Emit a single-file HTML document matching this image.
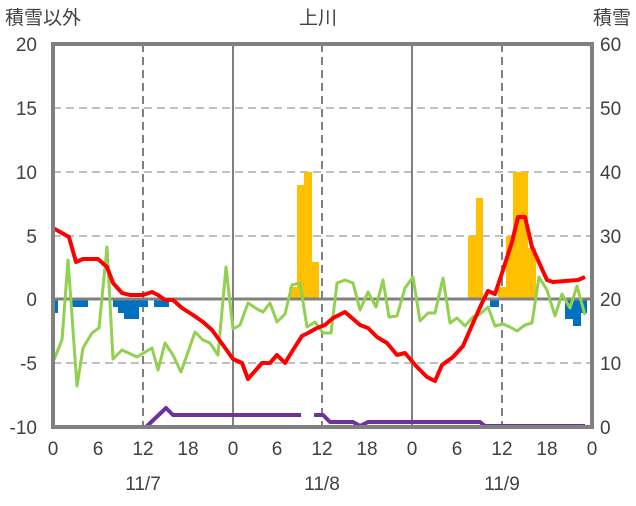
<!DOCTYPE html>
<html><head><meta charset="utf-8"><style>
body{margin:0;background:#fff;}
svg text{font-family:"Liberation Sans","Noto Sans CJK JP",sans-serif;fill:#404040;font-size:19px;}
</style></head><body>
<svg width="636" height="501" viewBox="0 0 636 501" xmlns="http://www.w3.org/2000/svg">
<g stroke="#bfbfbf" stroke-width="2" stroke-dasharray="8,5">
<line x1="53" y1="108" x2="592" y2="108"/><line x1="53" y1="172" x2="592" y2="172"/>
<line x1="53" y1="236" x2="592" y2="236"/><line x1="53" y1="363" x2="592" y2="363"/>
</g>
<g stroke="#808080" stroke-width="2" stroke-dasharray="8,5">
<line x1="143" y1="44" x2="143" y2="427"/><line x1="322" y1="44" x2="322" y2="427"/><line x1="502" y1="44" x2="502" y2="427"/>
</g>
<g stroke="#808080" stroke-width="2">
<line x1="233" y1="44" x2="233" y2="427"/><line x1="412" y1="44" x2="412" y2="427"/>
</g>
<g fill="#ffc000">
<rect x="289" y="287" width="8" height="12"/><rect x="297" y="185" width="7" height="114"/>
<rect x="304" y="172" width="8" height="127"/><rect x="312" y="262" width="7" height="37"/>
<rect x="468" y="236" width="8" height="63"/><rect x="476" y="198" width="7" height="101"/>
<rect x="498" y="287" width="8" height="12"/><rect x="506" y="236" width="7" height="63"/>
<rect x="513" y="172" width="15" height="127"/><rect x="528" y="248" width="8" height="51"/>
</g>
<g fill="#0070c0">
<rect x="53" y="299" width="5" height="14"/><rect x="72" y="299" width="16" height="8"/>
<rect x="113" y="299" width="5" height="8"/><rect x="118" y="299" width="6" height="14"/>
<rect x="124" y="299" width="15" height="20"/><rect x="139" y="299" width="9" height="8"/>
<rect x="154" y="299" width="15" height="8"/><rect x="490" y="299" width="9" height="8"/>
<rect x="565" y="299" width="8" height="20"/><rect x="573" y="299" width="8" height="27"/><rect x="581" y="299" width="6" height="14"/>
</g>
<line x1="53" y1="299" x2="592" y2="299" stroke="#808080" stroke-width="3"/>
<polyline fill="none" stroke="#92d050" stroke-width="3" stroke-linejoin="round" points="53,362 62,340 68,260 77,386 83,348 92,333 99,328 107,247 113,359 122,350 137,357 152,348 158,370 165,343 173,355 181,372 188,352 195,332 203,340 210,343 218,355 226,267 233,329 240,325 248,303 257,309 263,312 270,303 277,322 285,314 292,285 300,283 307,327 315,322 323,333 331,333 337,283 345,280 353,283 360,310 368,292 376,307 383,280 389,317 397,316 405,288 413,277 420,321 428,313 435,313 443,278 450,323 457,318 465,326 473,317 480,314 488,307 495,326 503,324 510,327 517,331 525,325 532,323 539,277 547,290 555,316 562,294 570,308 577,286 585,315"/>
<polyline fill="none" stroke="#ff0000" stroke-width="4" stroke-linejoin="round" points="53,228 69,237 76,262 83,259 98,259 107,267 113,283 122,293 130,295 143,295 152,292 158,295 165,300 173,300 182,308 193,315 203,322 212,330 223,345 233,359 242,363 248,379 262,363 270,363 277,355 285,363 293,350 302,336 308,333 317,328 325,325 333,318 345,312 360,325 368,328 377,337 387,343 397,355 405,353 417,367 427,377 435,381 442,365 453,357 463,346 473,323 482,303 488,291 495,294 503,270 512,242 518,217 525,217 532,247 547,280 553,282 578,280 585,277"/>
<polyline fill="none" stroke="#7030a0" stroke-width="4" stroke-linejoin="round" points="53,427 146,427 166,408 173,415 301,415"/>
<polyline fill="none" stroke="#7030a0" stroke-width="4" stroke-linejoin="round" points="314,415 323,415 330,422 353,422 360,426 368,422 480,422 485,426 585,426"/>
<rect x="53" y="44" width="539" height="383" fill="none" stroke="#808080" stroke-width="4"/>
<text x="5" y="24">積雪以外</text>
<text x="318" y="24" text-anchor="middle">上川</text>
<text x="631" y="24" text-anchor="end">積雪</text>
<g text-anchor="end">
<text x="37" y="51">20</text><text x="37" y="115">15</text><text x="37" y="179">10</text>
<text x="37" y="243">5</text><text x="37" y="306">0</text><text x="37" y="370">-5</text><text x="37" y="434">-10</text>
</g>
<g>
<text x="600" y="51">60</text><text x="600" y="115">50</text><text x="600" y="179">40</text>
<text x="600" y="243">30</text><text x="600" y="306">20</text><text x="600" y="370">10</text><text x="600" y="434">0</text>
</g>
<g text-anchor="middle">
<text x="53" y="455">0</text><text x="98" y="455">6</text><text x="143" y="455">12</text><text x="188" y="455">18</text>
<text x="233" y="455">0</text><text x="277" y="455">6</text><text x="322" y="455">12</text><text x="367" y="455">18</text>
<text x="412" y="455">0</text><text x="457" y="455">6</text><text x="502" y="455">12</text><text x="547" y="455">18</text>
<text x="592" y="455">0</text>
<text x="143" y="490">11/7</text><text x="322" y="490">11/8</text><text x="502" y="490">11/9</text>
</g>
</svg>
</body></html>
